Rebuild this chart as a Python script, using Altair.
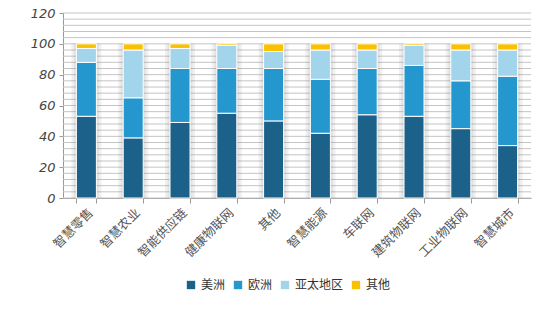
import altair as alt
import pandas as pd

categories = ["智慧零售", "智慧农业", "智能供应链", "健康物联网", "其他", "智慧能源", "车联网", "建筑物联网", "工业物联网", "智慧城市"]
regions = ["美洲", "欧洲", "亚太地区", "其他"]
americas = [53, 39, 49, 55, 50, 42, 54, 53, 45, 34]
europe = [35, 26, 35, 29, 34, 35, 30, 33, 31, 45]
asia_pacific = [9, 31, 13, 15, 11, 19, 12, 13, 20, 17]
others = [3, 4, 3, 1, 5, 4, 4, 1, 4, 4]
colors = ["#1b6189", "#2597cf", "#a2d4ec", "#f9c100"]
y_labels = [0, 20, 40, 60, 80, 100, 120]
grid_values = list(range(0, 121, 4))

series = [americas, europe, asia_pacific, others]
rows = []
for ri, (r, vals) in enumerate(zip(regions, series)):
    for c, v in zip(categories, vals):
        rows.append({"cat": c, "region": r, "value": v, "order": ri})
df = pd.DataFrame(rows)
totals = pd.DataFrame({"cat": categories, "total": [a + b + c + d for a, b, c, d in zip(*series)]})
grid_df = pd.DataFrame({"g": grid_values})

font = "Noto Sans CJK SC"
xenc = alt.X("cat:N", sort=categories, title=None,
             scale=alt.Scale(paddingInner=0.57, paddingOuter=0.285),
             axis=alt.Axis(labelAngle=-45, labelFont=font, labelFontSize=12.5, labelColor="#555555",
                           labelPadding=3, domainColor="#999999", tickColor="#999999",
                           tickBand="extent", tickSize=5, grid=False, labelOverlap=False))
yscale = alt.Scale(domain=[0, 120], nice=False)
yaxis = alt.Axis(values=y_labels, grid=False, labelFont="DejaVu Sans", labelFontStyle="italic",
                 labelFontSize=13, labelColor="#444444", domainColor="#999999",
                 tickColor="#999999", tickSize=4, labelPadding=4, labelOverlap=False)

grid = alt.Chart(grid_df).mark_rule(color="#c4c4c4", strokeWidth=1).encode(
    y=alt.Y("g:Q", scale=yscale, axis=yaxis, title=None)
)

shadow1 = alt.Chart(totals).mark_bar(color="#808080", opacity=0.12, size=30).encode(
    x=xenc, y=alt.Y("total:Q", scale=yscale, axis=yaxis, title=None)
)
shadow2 = alt.Chart(totals).mark_bar(color="#808080", opacity=0.12, size=25).encode(
    x=xenc, y=alt.Y("total:Q", scale=yscale, axis=yaxis, title=None)
)

bars = alt.Chart(df).mark_bar(size=20, stroke="white", strokeWidth=1).encode(
    x=xenc,
    y=alt.Y("value:Q", stack="zero", scale=yscale, axis=yaxis, title=None),
    color=alt.Color("region:N", scale=alt.Scale(domain=regions, range=colors),
                    legend=alt.Legend(title=None, orient="none", direction="horizontal",
                                      legendX=122, legendY=266, symbolType="square", symbolSize=70,
                                      labelFont=font, labelFontSize=12, labelColor="#333333",
                                      columnPadding=6, symbolStrokeWidth=0)),
    order=alt.Order("order:Q"),
    tooltip=["cat", "region", "value"],
)

chart = alt.layer(grid, shadow1, shadow2, bars).properties(
    width=468, height=185,
    background="white",
    autosize=alt.AutoSizeParams(type="none"),
    padding={"left": 63, "top": 13, "right": 19, "bottom": 129},
).configure_view(strokeWidth=0, stroke="transparent").configure_axis(grid=False)

chart.save("out.html", embed_options={"renderer": "svg", "actions": False})
